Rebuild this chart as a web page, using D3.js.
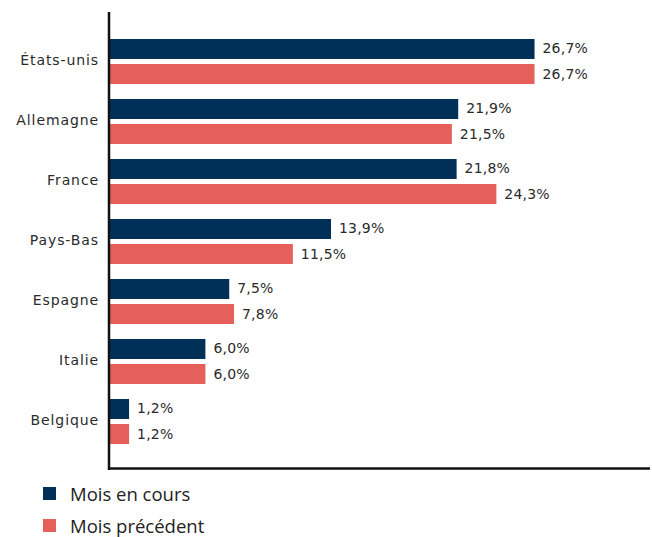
<!DOCTYPE html>
<html>
<head>
<meta charset="utf-8">
<script src="https://cdn.jsdelivr.net/npm/d3@7"></script>
<style>
  body { margin: 0; background: #fff; }
  .cat { font-family: "DejaVu Sans", sans-serif; font-size: 14px; fill: #2a2a2a; letter-spacing: 0.9px; }
  .val { font-family: "DejaVu Sans", sans-serif; font-size: 14px; fill: #2a2a2a; letter-spacing: 0.2px; }
  .leg { font-family: "Open Sans", sans-serif; font-size: 18.5px; fill: #222; }
</style>
</head>
<body>
<div id="chart"></div>
<script>
// data
const countries = ["États-unis", "Allemagne", "France", "Pays-Bas", "Espagne", "Italie", "Belgique"];
const moisEnCours = [26.7, 21.9, 21.8, 13.9, 7.5, 6.0, 1.2];
const moisPrecedent = [26.7, 21.5, 24.3, 11.5, 7.8, 6.0, 1.2];
const seriesNames = ["Mois en cours", "Mois précédent"];
const colors = ["#003057", "#e5605a"];

const width = 652, height = 537;

const svg = d3.select("#chart")
  .append("svg")
  .attr("width", width)
  .attr("height", height);

const x = d3.scaleLinear()
  .domain([0, 34])
  .range([110, 650.6]);

const y = d3.scaleBand()
  .domain(countries)
  .range([31.5, 451.5]);

const barH = 20, gap = 5;

const fmt = v => d3.format(".1f")(v).replace(".", ",") + "%";

const rows = countries.map((c, i) => ({ c, vals: [moisEnCours[i], moisPrecedent[i]] }));

const g = svg.selectAll("g.row")
  .data(rows)
  .join("g")
  .attr("class", "row")
  .attr("transform", d => `translate(0,${y(d.c) + y.bandwidth() / 2})`);

// bars, one per series
g.selectAll("rect")
  .data(d => d.vals.map((v, k) => ({ v, k })))
  .join("rect")
  .attr("x", 109)
  .attr("y", d => d.k === 0 ? -(barH + gap / 2) : gap / 2)
  .attr("width", d => x(d.v) - 109)
  .attr("height", barH)
  .attr("fill", d => colors[d.k]);

// value labels
g.selectAll("text.val")
  .data(d => d.vals.map((v, k) => ({ v, k })))
  .join("text")
  .attr("class", "val")
  .attr("x", d => x(d.v) + 8)
  .attr("y", d => d.k === 0 ? -(barH + gap) / 2 - 1 : (barH + gap) / 2)
  .attr("dy", "0.36em")
  .text(d => fmt(d.v));

// category labels
g.append("text")
  .attr("class", "cat")
  .attr("x", 99)
  .attr("y", -2)
  .attr("dy", "0.36em")
  .attr("text-anchor", "end")
  .text(d => d.c);

// axis lines
svg.append("line")
  .attr("x1", 109).attr("x2", 109)
  .attr("y1", 12).attr("y2", 470)
  .attr("stroke", "#111").attr("stroke-width", 2.5);

svg.append("line")
  .attr("x1", 108).attr("x2", 650)
  .attr("y1", 468.5).attr("y2", 468.5)
  .attr("stroke", "#111").attr("stroke-width", 2.5);

// legend
const leg = svg.selectAll("g.leg")
  .data(seriesNames)
  .join("g")
  .attr("transform", (d, i) => `translate(43,${487 + i * 32})`);

leg.append("rect")
  .attr("width", 13).attr("height", 13)
  .attr("fill", (d, i) => colors[i]);

leg.append("text")
  .attr("class", "leg")
  .attr("x", 27)
  .attr("y", 7.5)
  .attr("dy", "0.36em")
  .text(d => d);
</script>
</body>
</html>
